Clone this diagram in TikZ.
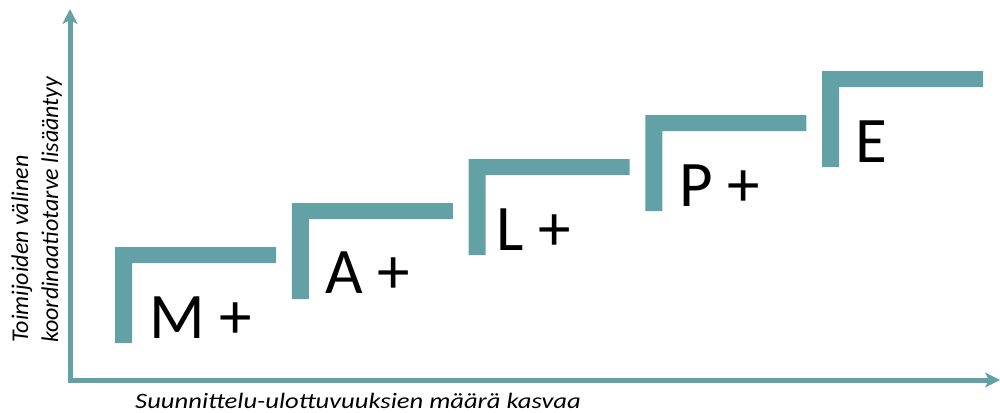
\documentclass[tikz,border=0pt]{standalone}
\usepackage{fontspec}
\setmainfont{Carlito}
\usetikzlibrary{arrows.meta}
\definecolor{teal1}{RGB}{98,161,166}
\tikzset{
  axis/.style={line width=5pt, draw=teal1, -{Stealth[length=15pt,width=15pt,inset=4pt]}},
  stair/.style={fill=teal1, draw=none},
  biglabel/.style={anchor=base west, inner sep=0pt, font=\fontsize{65}{70}\selectfont},
  axlabel/.style={anchor=base west, inner sep=0pt, font=\fontsize{24}{28}\selectfont\itshape}
}
\begin{document}
\begin{tikzpicture}[x=1pt,y=-1pt]
\useasboundingbox (0,0) rectangle (1000,412);
\coordinate (O) at (70,380);
\coordinate (ytop) at (70,9);
\coordinate (xend) at (1000,380);
\draw[axis] (O) -- (ytop);
\draw[axis] ([xshift=-2.5pt]O) -- (xend);
% steps
\foreach \i/\nm in {0/M,1/A,2/L,3/P,4/E}{
  \pgfmathsetmacro{\xx}{115+176.75*\i}
  \pgfmathsetmacro{\yy}{247-44*\i}
  \fill[stair] (\xx,\yy) -- ++(161,0) -- ++(0,16) -- ++(-144,0) -- ++(0,80) -- ++(-17,0) -- cycle;
}
\node[biglabel] (m) at (149,338) {M +};
\node[biglabel] (a) at (325,293) {A +};
\node[biglabel] (l) at (496,250) {L +};
\node[biglabel] (p) at (679,206) {P +};
\node[biglabel] (e) at (855,162) {E};
\node[axlabel, rotate=90] (y1) at (28,343) {Toimijoiden välinen};
\node[axlabel, rotate=90] (y2) at (58,343) {koordinaatiotarve lisääntyy};
\node[axlabel, font=\fontsize{22}{26}\selectfont\itshape, xscale=1.21] (xl) at (135,408) {Suunnittelu-ulottuvuuksien määrä kasvaa};
\end{tikzpicture}
\end{document}
